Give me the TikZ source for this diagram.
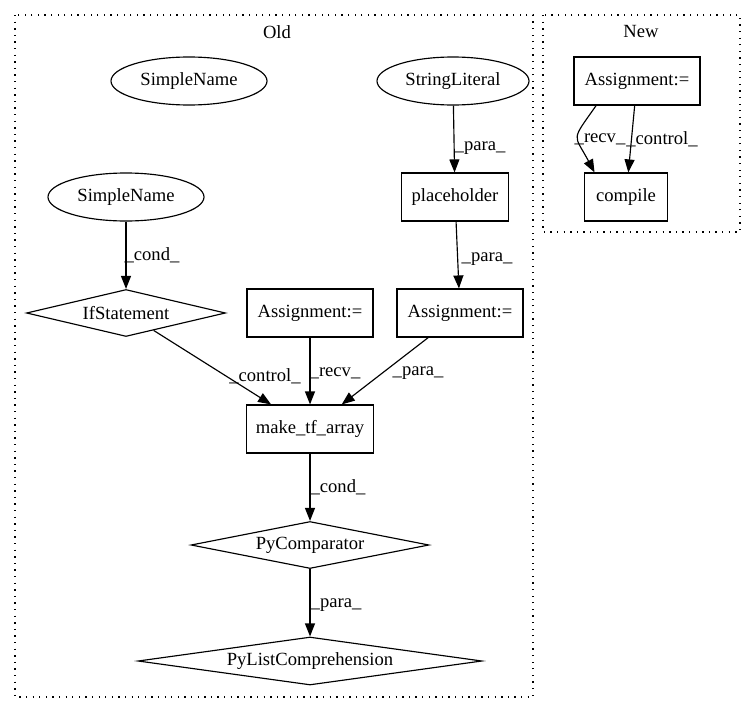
\documentclass[tikz,border=0pt]{standalone}
\usepackage{fontspec}
\setmainfont{Liberation Serif}
\usetikzlibrary{arrows.meta,shapes.geometric}
\begin{document}
\begin{tikzpicture}[x=1pt,y=-1pt,line width=1.15pt,
    >={Triangle[length=13pt,width=10pt]},
    every node/.style={font=\fontsize{18.6}{22}\selectfont,inner sep=0pt},
    box/.style={draw,rectangle,minimum height=48pt},
    ell/.style={draw,ellipse,minimum width=156pt,minimum height=48pt},
    dia/.style={draw,diamond,aspect=6,minimum height=47pt},
    clus/.style={line width=1.3pt,dash pattern=on 1.3pt off 5.3pt}]
    \useasboundingbox(0,0)rectangle(755,712);
    \draw[clus](15,15)rectangle(533,697);
    \draw[clus](543,15)rectangle(740,232);
    \node(old)at(277,32){Old};
    \node(new)at(641,32){New};
    \node[ell](sn1)at(189,81){SimpleName};
    \node[ell,minimum width=152pt](strlit)at(453,81){StringLiteral};
    \node[ell](sn2)at(126,197){SimpleName};
    \node[box,minimum width=107pt](ph)at(455,197){placeholder};
    \node[dia,minimum width=199pt](ifst)at(126,313){IfStatement};
    \node[box,minimum width=126pt](asg1)at(310,313){Assignment:=};
    \node[box,minimum width=126pt](asg2)at(460,313){Assignment:=};
    \node[box,minimum width=127pt](mta)at(310,429){make\_tf\_array};
    \node[dia,minimum width=238pt](pycmp)at(310,545){PyComparator};
    \node[dia,minimum width=344pt,minimum height=48pt](pylc)at(310,661){PyListComprehension};
    \node[box,minimum width=126pt](asgn)at(637,81){Assignment:=};
    \node[box,minimum width=83pt](comp)at(626,197){compile};
    \draw[->](strlit)--(ph);
    \node(lpara1)at(480,148){\_para\_};
    \draw[->](ph)--(asg2);
    \node(lpara2)at(487,259){\_para\_};
    \draw[->](sn2)--(ifst);
    \node(lcond1)at(152,255){\_cond\_};
    \draw[->](ifst)--(mta);
    \node(lctrl1)at(265,376){\_control\_};
    \draw[->](asg1)--(mta);
    \node(lrecv1)at(335,373){\_recv\_};
    \draw[->](asg2)--(mta);
    \node(lpara3)at(418,373){\_para\_};
    \draw[->](mta)--(pycmp);
    \node(lcond2)at(338,487){\_cond\_};
    \draw[->](pycmp)--(pylc);
    \node(lpara4)at(336,605){\_para\_};
    \draw[->](asgn.211.6)to[out=235,in=118,looseness=1.7](comp.142);
    \node(lrecv2)at(600,139){\_recv\_};
    \draw[->](asgn)--(comp);
    \node(lctrl2)at(662,139){\_control\_};
\end{tikzpicture}
\end{document}
